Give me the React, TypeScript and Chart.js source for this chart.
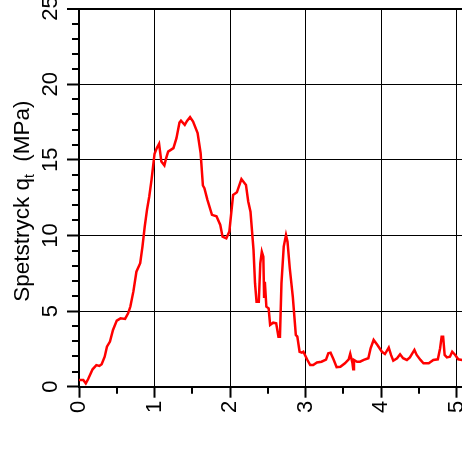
import React, { useEffect, useRef } from 'react';
import { Chart, registerables } from 'chart.js';

Chart.register(...registerables);

// Depth / distance (x axis)
const depthX = [
  0, 0.057, 0.09, 0.12, 0.18, 0.23, 0.27, 0.30, 0.34, 0.37, 0.41, 0.45, 0.50, 0.55, 0.61, 0.65,
  0.68, 0.72, 0.76, 0.81, 0.84, 0.87, 0.90, 0.93, 0.96, 1.00, 1.03, 1.06, 1.09, 1.13, 1.15, 1.18,
  1.25, 1.29, 1.33, 1.35, 1.40, 1.43, 1.47, 1.51, 1.57, 1.61, 1.64, 1.66, 1.70, 1.76, 1.82, 1.87,
  1.90, 1.95, 1.99, 2.04, 2.09, 2.15, 2.21, 2.24, 2.27, 2.31, 2.33, 2.35, 2.38, 2.40, 2.42, 2.44,
  2.45, 2.46, 2.48, 2.51, 2.53, 2.57, 2.61, 2.64, 2.66, 2.68, 2.71, 2.74, 2.76, 2.79, 2.83, 2.87,
  2.89, 2.92, 2.95, 2.97, 3.02, 3.06, 3.10, 3.15, 3.21, 3.27, 3.30, 3.33, 3.37, 3.41, 3.46, 3.52,
  3.57, 3.59, 3.62, 3.63, 3.64, 3.68, 3.72, 3.77, 3.83, 3.86, 3.90, 3.95, 4.01, 4.05, 4.10, 4.13,
  4.16, 4.21, 4.25, 4.29, 4.34, 4.38, 4.44, 4.47, 4.52, 4.56, 4.63, 4.69, 4.75, 4.78, 4.80, 4.82,
  4.84, 4.87, 4.91, 4.94, 4.98, 5.02, 5.07, 5.12,
];

// Spetstryck q_t (MPa)
const qtValues = [
  0.44, 0.44, 0.22, 0.49, 1.15, 1.43, 1.37, 1.48, 1.98, 2.65, 2.98, 3.75, 4.37, 4.52, 4.48, 4.85,
  5.3, 6.3, 7.6, 8.16, 9.26, 10.58, 11.69, 12.57, 13.67, 15.4, 15.77, 16.05, 14.88, 14.62, 15.04, 15.54,
  15.77, 16.43, 17.46, 17.59, 17.31, 17.57, 17.82, 17.53, 16.76, 15.44, 13.3, 13.12, 12.35, 11.36, 11.27, 10.69,
  9.92, 9.81, 10.25, 12.68, 12.85, 13.73, 13.34, 12.24, 11.57, 9.04, 6.84, 5.62, 5.62, 8.16, 8.93, 8.6,
  5.95, 6.94, 5.29, 5.18, 4.08, 4.23, 4.19, 3.31, 3.31, 6.84, 9.26, 10.03, 9.59, 7.83, 5.95, 3.42,
  3.31, 2.31, 2.25, 2.31, 1.8, 1.43, 1.43, 1.6, 1.65, 1.79, 2.21, 2.25, 1.8, 1.29, 1.32, 1.55,
  1.81, 2.18, 1.55, 1.15, 1.77, 1.65, 1.65, 1.77, 1.88, 2.54, 3.09, 2.76, 2.31, 2.16, 2.58, 2.10,
  1.72, 1.88, 2.14, 1.88, 1.77, 1.94, 2.43, 2.10, 1.77, 1.55, 1.55, 1.77, 1.81, 2.54, 3.31, 3.31,
  2.10, 1.94, 1.98, 2.31, 2.10, 1.81, 1.77, 1.75,
];

const xTickValues = [0, 1, 2, 3, 4, 5];
const xMinorTickValues = [0.5, 1.5, 2.5, 3.5, 4.5];
const yTickValues = [0, 5, 10, 15, 20, 25];
const yMinorTickValues = [1, 2, 3, 4, 6, 7, 8, 9, 11, 12, 13, 14, 16, 17, 18, 19, 21, 22, 23, 24];

const yTitleMain = 'Spetstryck q';
const yTitleSub = 't';
const yTitleUnit = '  (MPa)';

const FONT = '"Liberation Sans", Arial, Helvetica, sans-serif';

const extrasPlugin = {
  id: 'extras',
  afterDraw(chart: any) {
    const ctx = chart.ctx as CanvasRenderingContext2D;
    const area = chart.chartArea;
    const xs = chart.scales.x;
    const ys = chart.scales.y;
    ctx.save();
    ctx.strokeStyle = '#000';
    ctx.lineWidth = 2;
    ctx.beginPath();
    for (const v of yMinorTickValues) {
      const py = Math.round(ys.getPixelForValue(v));
      ctx.moveTo(area.left - 7, py);
      ctx.lineTo(area.left, py);
    }
    for (const v of xMinorTickValues) {
      const px = Math.round(xs.getPixelForValue(v));
      ctx.moveTo(px, area.bottom);
      ctx.lineTo(px, area.bottom + 7);
    }
    ctx.stroke();

    // Y axis title with subscript
    const mainFont = `22.5px ${FONT}`;
    const subFont = `14px ${FONT}`;
    ctx.font = mainFont;
    const w1 = ctx.measureText(yTitleMain).width;
    const w3 = ctx.measureText(yTitleUnit).width;
    ctx.font = subFont;
    const w2 = ctx.measureText(yTitleSub).width;
    const total = w1 + w2 + w3;
    ctx.fillStyle = '#000';
    ctx.translate(28.5, (area.top + area.bottom) / 2 + 3.5);
    ctx.rotate(-Math.PI / 2);
    ctx.textAlign = 'left';
    ctx.textBaseline = 'alphabetic';
    let x = -total / 2;
    ctx.font = mainFont;
    ctx.fillText(yTitleMain, x, 0);
    x += w1;
    ctx.font = subFont;
    ctx.fillText(yTitleSub, x, 5);
    x += w2;
    ctx.font = mainFont;
    ctx.fillText(yTitleUnit, x, 0);
    ctx.restore();
  },
};

export default function App() {
  const ref = useRef<HTMLCanvasElement | null>(null);

  useEffect(() => {
    if (!ref.current) return;
    const chart = new Chart(ref.current, {
      type: 'line',
      data: {
        datasets: [
          {
            data: depthX.map((x, i) => ({ x, y: qtValues[i] })),
            borderColor: '#ff0000',
            borderWidth: 2.5,
            pointRadius: 0,
            tension: 0,
            fill: false,
          },
        ],
      },
      options: {
        animation: false,
        responsive: false,
        events: [],
        layout: { padding: { left: 0, top: 28.5, right: 20.6, bottom: 21.3 } },
        plugins: { legend: { display: false }, tooltip: { enabled: false } },
        scales: {
          x: {
            type: 'linear',
            min: 0,
            max: 5.3,
            afterBuildTicks: (s: any) => {
              s.ticks = xTickValues.map((v) => ({ value: v }));
            },
            afterFit: (s: any) => {
              s.height = 60;
            },
            ticks: {
              minRotation: 90,
              maxRotation: 90,
              autoSkip: false,
              padding: 3,
              color: '#000',
              font: { family: FONT, size: 22 },
              callback: (v: any) => String(v),
            },
            grid: { color: '#000', lineWidth: 1, tickLength: 11, tickWidth: 2, tickColor: '#000' },
            border: { color: '#000', width: 2 },
          },
          y: {
            type: 'linear',
            min: 0,
            max: 25,
            afterBuildTicks: (s: any) => {
              s.ticks = yTickValues.map((v) => ({ value: v }));
            },
            afterFit: (s: any) => {
              s.width = 79;
            },
            ticks: {
              minRotation: 90,
              maxRotation: 90,
              crossAlign: 'center',
              autoSkip: false,
              padding: 4,
              color: '#000',
              font: { family: FONT, size: 22 },
              callback: (v: any) => String(v),
            },
            grid: {
              color: '#000',
              lineWidth: (c: any) => (c.tick && c.tick.value === 25 ? 2 : 1),
              tickLength: 12,
              tickWidth: 2,
              tickColor: '#000',
            },
            border: { color: '#000', width: 2 },
          },
        },
      },
      plugins: [extrasPlugin],
    } as any);
    return () => chart.destroy();
  }, []);

  return (
    <div
      style={{
        position: 'fixed',
        left: 0,
        top: 0,
        width: 462,
        height: 468,
        overflow: 'hidden',
        background: '#fff',
      }}
    >
      <canvas
        ref={ref}
        width={500}
        height={488}
        style={{ position: 'absolute', left: 0, top: -20, width: 500, height: 488 }}
      />
    </div>
  );
}
